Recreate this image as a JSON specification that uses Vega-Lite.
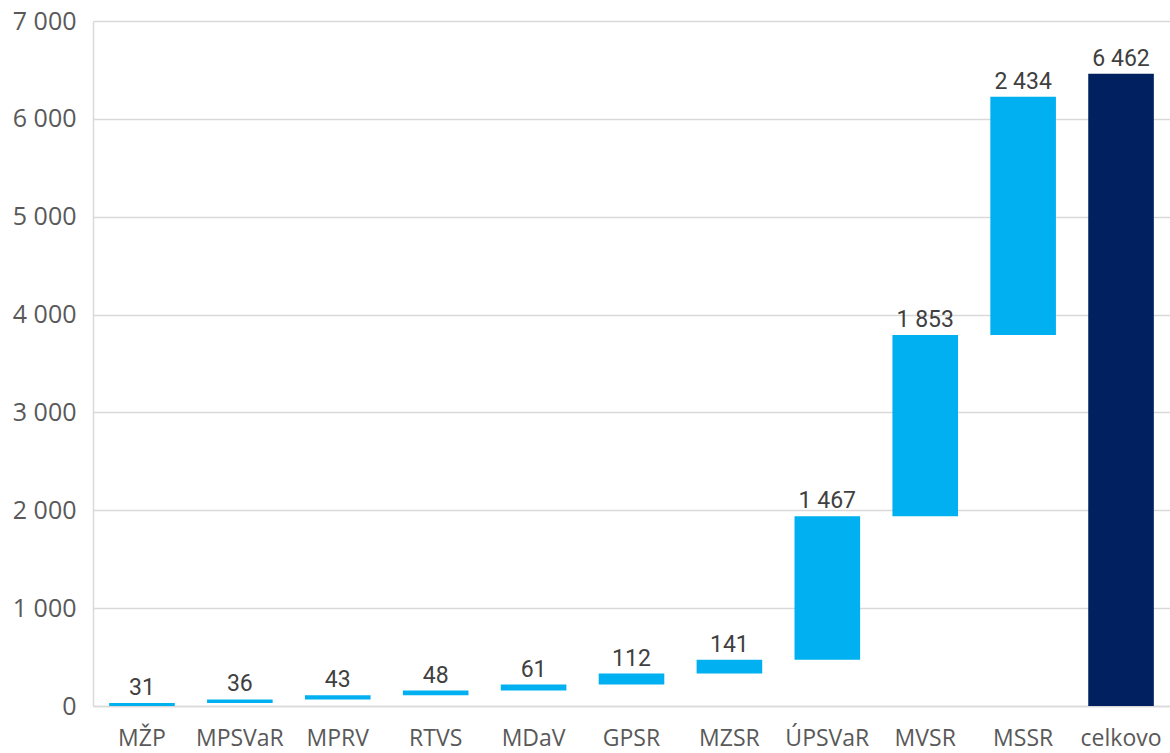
{
  "$schema": "https://vega.github.io/schema/vega-lite/v6.json",
  "autosize": {"type": "none"},
  "width": 1077,
  "height": 685,
  "padding": {"left": 93, "top": 21, "right": 0, "bottom": 47},
  "background": "white",
  "config": {
    "view": {"stroke": null},
    "locale": {"number": {"decimal": ",", "thousands": " ", "grouping": [3], "currency": ["", " €"]}}
  },
  "data": {
    "values": [
      {"kat": "MŽP", "value": 31, "start": 0, "end": 31, "typ": "d"},
      {"kat": "MPSVaR", "value": 36, "start": 31, "end": 67, "typ": "d"},
      {"kat": "MPRV", "value": 43, "start": 67, "end": 110, "typ": "d"},
      {"kat": "RTVS", "value": 48, "start": 110, "end": 158, "typ": "d"},
      {"kat": "MDaV", "value": 61, "start": 158, "end": 219, "typ": "d"},
      {"kat": "GPSR", "value": 112, "start": 219, "end": 331, "typ": "d"},
      {"kat": "MZSR", "value": 141, "start": 331, "end": 472, "typ": "d"},
      {"kat": "ÚPSVaR", "value": 1467, "start": 472, "end": 1939, "typ": "d"},
      {"kat": "MVSR", "value": 1853, "start": 1939, "end": 3792, "typ": "d"},
      {"kat": "MSSR", "value": 2434, "start": 3792, "end": 6226, "typ": "d"},
      {"kat": "celkovo", "value": 6462, "start": 0, "end": 6462, "typ": "t"}
    ]
  },
  "encoding": {
    "x": {
      "field": "kat", "type": "nominal", "sort": null,
      "scale": {"paddingInner": 0.33, "paddingOuter": 0.165},
      "axis": {
        "title": null, "labelAngle": 0, "ticks": false, "domain": true,
        "domainColor": "#d9d9d9", "domainWidth": 1.5,
        "labelFont": "Open Sans", "labelFontSize": 23, "labelColor": "#595959",
        "labelPadding": 21, "labelOverlap": false
      }
    }
  },
  "layer": [
    {
      "mark": {"type": "bar"},
      "encoding": {
        "y": {
          "field": "start", "type": "quantitative",
          "scale": {"domain": [0, 7000], "nice": false},
          "axis": {
            "title": null, "values": [0,1000,2000,3000,4000,5000,6000,7000],
            "format": ",d", "labelOverlap": false,
            "ticks": false, "domain": true, "domainColor": "#d9d9d9", "domainWidth": 1.5,
            "grid": true, "gridColor": "#d9d9d9", "gridWidth": 1.5,
            "labelFont": "Open Sans", "labelFontSize": 25, "labelColor": "#595959",
            "labelPadding": 17
          }
        },
        "y2": {"field": "end"},
        "color": {
          "field": "typ", "type": "nominal",
          "scale": {"domain": ["d", "t"], "range": ["#00B0F0", "#002060"]},
          "legend": null
        }
      }
    },
    {
      "mark": {"type": "text", "baseline": "bottom", "dy": -3, "font": "Roboto", "fontSize": 23, "color": "#404040"},
      "encoding": {
        "y": {"field": "end", "type": "quantitative"},
        "text": {"field": "value", "type": "quantitative", "format": ",d"}
      }
    }
  ]
}
